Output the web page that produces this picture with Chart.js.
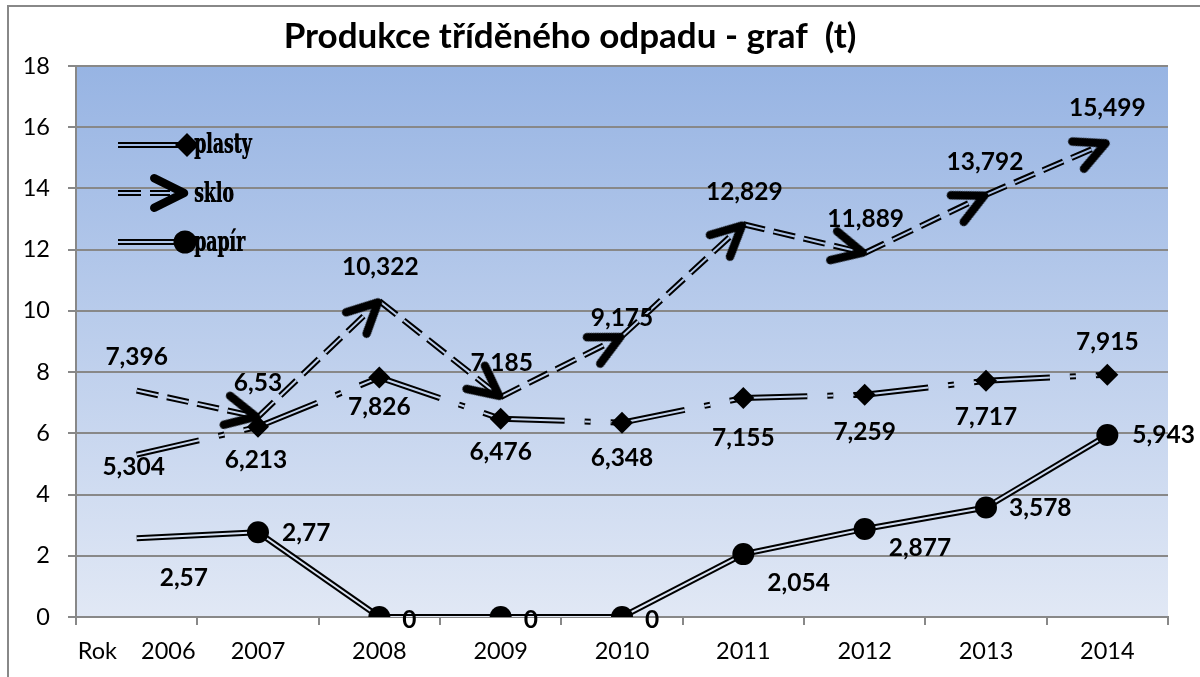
<!DOCTYPE html>
<html>
<head>
<meta charset="utf-8">
<script src="https://cdn.jsdelivr.net/npm/chart.js@4.4.1/dist/chart.umd.min.js"></script>
<style>
  html, body { margin: 0; padding: 0; background: #fff; }
  #obal { width: 1200px; height: 677px; position: relative; }
</style>
</head>
<body>
<div id="obal"><canvas id="graf"></canvas></div>
<script>
// data z tabulky (t)
const roky = ['Rok    2006', '2007', '2008', '2009', '2010', '2011', '2012', '2013', '2014'];
const plasty = [5.304, 6.213, 7.826, 6.476, 6.348, 7.155, 7.259, 7.717, 7.915];
const sklo = [7.396, 6.53, 10.322, 7.185, 9.175, 12.829, 11.889, 13.792, 15.499];
const papir = [2.57, 2.77, 0, 0, 0, 2.054, 2.877, 3.578, 5.943];
const osaYMax = 18;
const osaYKrok = 2;

// posun popisků vůči bodu [dx, dy]
const posPlasty = [[-3, 12], [-2, 33], [0, 30], [0, 33], [0, 35], [0, 40], [0, 37], [0, 36], [0, -33]];
const posSklo = [[0, -34], [0, -34], [1, -34], [1, -34], [0, -18], [1, -32], [1, -34], [-1, -33], [0, -34]];
const posPapir = [[23, 40], [24, 1], [23, 3], [23, 3], [23, 3], [24, 29], [24, 19], [23, 1], [25, 0]];

const SEDA = '#888888';
const PISMO = 'Lato, "Open Sans", sans-serif';

// sipka (otevrena) - spicka uprostred platna, miri doprava
function sipka(delka, uhel, tloustka) {
    const c = document.createElement('canvas');
    c.width = 90; c.height = 90;
    const g = c.getContext('2d');
    const m = 45;
    g.strokeStyle = '#000';
    g.lineWidth = tloustka;
    g.lineCap = 'round';
    g.lineJoin = 'round';
    g.beginPath();
    g.moveTo(m - delka * Math.cos(uhel), m - delka * Math.sin(uhel));
    g.lineTo(m - 2, m);
    g.lineTo(m - delka * Math.cos(uhel), m + delka * Math.sin(uhel));
    g.stroke();
    return c;
}
const sipkaImg = sipka(35, 25 * Math.PI / 180, 8.5);

let gradCache = null;
function pozadi(chart) {
    const a = chart.chartArea;
    if (!a) return '#c4d3ee';
    if (gradCache && gradCache.t === a.top && gradCache.b === a.bottom) return gradCache.g;
    const g = chart.ctx.createLinearGradient(0, a.top, 0, a.bottom);
    g.addColorStop(0, '#97b4e3');
    g.addColorStop(1, '#e1e8f5');
    gradCache = { t: a.top, b: a.bottom, g: g };
    return g;
}

const bezBodu0 = (r) => (c) => (c.dataIndex === 0 ? 0 : r);
const restartCar = { borderDashOffset: (c) => c.p0DataIndex * 0.001 };

function dvojcara(data, dash, poradi) {
    return [{
        data: data, order: poradi, borderColor: '#000', borderWidth: 6,
        borderDash: dash, segment: restartCar, pointRadius: 0, fill: false, clip: 0
    }, {
        data: data, order: poradi - 1, borderColor: (c) => pozadi(c.chart), borderWidth: 2,
        borderDash: dash, segment: restartCar, pointRadius: 0, fill: false, clip: 0
    }];
}

function natoceniSipky(c) {
    const i = c.dataIndex;
    if (i === 0) return 0;
    const sx = c.chart.scales.x, sy = c.chart.scales.y;
    const dx = sx.getPixelForValue(i) - sx.getPixelForValue(i - 1);
    const dy = sy.getPixelForValue(sklo[i]) - sy.getPixelForValue(sklo[i - 1]);
    return Math.atan2(dy, dx) * 180 / Math.PI;
}

const DASH_PLASTY = [64, 20, 6, 20];
const DASH_SKLO = [22, 9];

const datasets = [
    ...dvojcara(papir, [], 20),
    ...dvojcara(plasty, DASH_PLASTY, 17),
    ...dvojcara(sklo, DASH_SKLO, 14),
    { data: papir, order: 5, showLine: false, pointStyle: 'circle', pointRadius: bezBodu0(11),
      pointBackgroundColor: '#000', pointBorderWidth: 0, clip: 0, popisky: posPapir, zarovnani: 'left' },
    { data: plasty, order: 4, showLine: false, pointStyle: 'rectRot', pointRadius: bezBodu0(11),
      pointBackgroundColor: '#000', pointBorderWidth: 0, clip: 0, popisky: posPlasty, zarovnani: 'center' },
    { data: sklo, order: 3, showLine: false, pointStyle: sipkaImg, pointRadius: bezBodu0(12),
      pointRotation: natoceniSipky, clip: 0, popisky: posSklo, zarovnani: 'center' }
];

const pluginPozadi = {
    id: 'pozadi',
    beforeDraw(chart) {
        const ctx = chart.ctx, a = chart.chartArea;
        ctx.save();
        // ramecek grafu
        ctx.strokeStyle = SEDA;
        ctx.lineWidth = 2;
        ctx.beginPath();
        ctx.moveTo(8, 677);
        ctx.lineTo(8, 6);
        ctx.lineTo(1200, 6);
        ctx.stroke();
        // plocha
        ctx.fillStyle = pozadi(chart);
        ctx.fillRect(a.left, a.top, a.right - a.left, a.bottom - a.top);
        // nadpis
        ctx.fillStyle = '#000';
        ctx.font = 'bold 35px ' + PISMO;
        ctx.textAlign = 'center';
        ctx.textBaseline = 'middle';
        ctx.fillText('Produkce tříděného odpadu - graf  (t)', 570, 37);
        ctx.restore();
    }
};

const pluginPopisky = {
    id: 'popisky',
    afterDatasetsDraw(chart) {
        const ctx = chart.ctx;
        ctx.save();
        ctx.font = 'bold 24.5px ' + PISMO;
        ctx.fillStyle = '#000';
        ctx.textBaseline = 'middle';
        chart.data.datasets.forEach((ds, di) => {
            if (!ds.popisky) return;
            const meta = chart.getDatasetMeta(di);
            ctx.textAlign = ds.zarovnani;
            meta.data.forEach((bod, i) => {
                const [dx, dy] = ds.popisky[i];
                ctx.fillText(String(ds.data[i]).replace('.', ','), bod.x + dx, bod.y + dy);
            });
        });
        ctx.restore();
    }
};

function legendaCara(ctx, chart, x1, x2, y, dash) {
    ctx.setLineDash(dash);
    ctx.lineCap = 'butt';
    ctx.strokeStyle = '#000';
    ctx.lineWidth = 6;
    ctx.beginPath(); ctx.moveTo(x1, y); ctx.lineTo(x2, y); ctx.stroke();
    ctx.strokeStyle = pozadi(chart);
    ctx.lineWidth = 2;
    ctx.beginPath(); ctx.moveTo(x1, y); ctx.lineTo(x2, y); ctx.stroke();
    ctx.setLineDash([]);
}

const pluginLegenda = {
    id: 'legenda',
    afterDraw(chart) {
        const ctx = chart.ctx;
        ctx.save();
        // plasty
        legendaCara(ctx, chart, 118, 182, 145, []);
        ctx.fillStyle = '#000';
        ctx.beginPath();
        ctx.moveTo(175, 145); ctx.lineTo(187, 133); ctx.lineTo(199, 145); ctx.lineTo(187, 157);
        ctx.closePath(); ctx.fill();
        // sklo
        legendaCara(ctx, chart, 118, 170, 193, [23, 9]);
        ctx.drawImage(sipkaImg, 186 - 45, 193 - 45);
        // papir
        legendaCara(ctx, chart, 118, 178, 242, []);
        ctx.beginPath(); ctx.arc(185, 242, 11.5, 0, Math.PI * 2); ctx.fill();
        // texty
        const texty = [['plasty', 153], ['sklo', 202], ['papír', 251]];
        ctx.font = 'bold 27px "DejaVu Serif", serif';
        ctx.textAlign = 'left';
        ctx.textBaseline = 'alphabetic';
        texty.forEach(([t, y]) => {
            ctx.save();
            ctx.translate(194, y);
            ctx.scale(0.64, 1);
            ctx.fillText(t, 0, 0);
            ctx.fillText(t, 0.6, 0);
            ctx.restore();
        });
        ctx.restore();
    }
};

new Chart(document.getElementById('graf'), {
    type: 'line',
    data: { labels: roky, datasets: datasets },
    options: {
        responsive: true,
        maintainAspectRatio: false,
        animation: false,
        events: [],
        layout: { padding: { left: 0, top: 66, right: 32, bottom: 0 } },
        plugins: { legend: { display: false }, tooltip: { enabled: false }, title: { display: false } },
        scales: {
            x: {
                offset: true,
                afterFit: (s) => { s.height = 60; },
                grid: { display: true, offset: true, drawOnChartArea: false, color: SEDA, lineWidth: 2, tickLength: 8 },
                border: { display: true, color: SEDA, width: 2 },
                ticks: { color: '#000', font: { family: PISMO, size: 23.5 }, padding: 12, maxRotation: 0, autoSkip: false }
            },
            y: {
                min: 0,
                max: osaYMax,
                afterFit: (s) => { s.width = 76; },
                grid: { color: SEDA, lineWidth: 2, tickLength: 8 },
                border: { display: true, color: SEDA, width: 2 },
                ticks: { stepSize: osaYKrok, color: '#000', font: { family: PISMO, size: 23.5 }, padding: 18 }
            }
        }
    },
    plugins: [pluginPozadi, pluginPopisky, pluginLegenda]
});
</script>
</body>
</html>
